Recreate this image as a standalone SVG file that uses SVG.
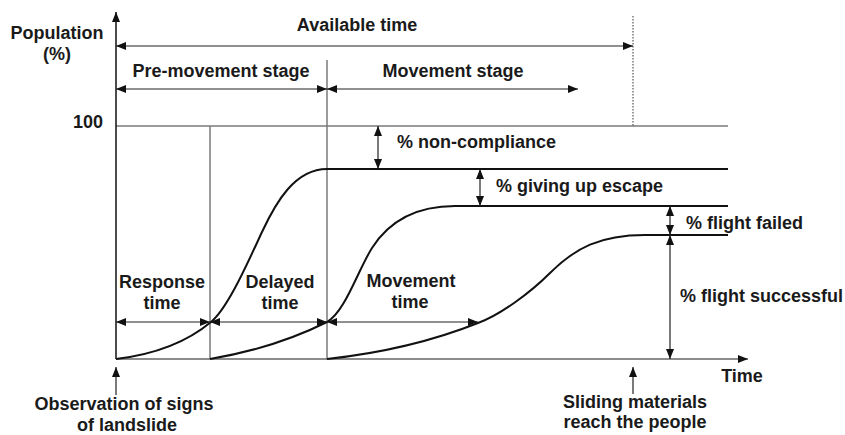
<svg xmlns="http://www.w3.org/2000/svg" width="845" height="435" viewBox="0 0 845 435">
<defs>
<marker id="ah" viewBox="0 0 10 8" refX="10" refY="4" markerWidth="10" markerHeight="8" markerUnits="userSpaceOnUse" orient="auto-start-reverse">
<path d="M0,0 L10,4 L0,8 Z" fill="#111"/>
</marker>
</defs>
<style>
text{font-family:"Liberation Sans",Arial,Helvetica,sans-serif;font-weight:bold;font-size:18px;fill:#1a1a1a}
.mid{text-anchor:middle}
.grid{stroke:#7a7a7a;stroke-width:1.5;fill:none}
.axis{stroke:#111;stroke-width:1.5;fill:none}
.curve{stroke:#111;stroke-width:2;fill:none}
.arr{stroke:#222;stroke-width:1.2;fill:none;marker-start:url(#ah);marker-end:url(#ah)}
.arr1{stroke:#222;stroke-width:1.2;fill:none;marker-end:url(#ah)}
</style>
<rect width="845" height="435" fill="#fff"/>
<g id="grid">
<line class="grid" x1="116" y1="126" x2="728" y2="126"/>
<line class="grid" x1="210" y1="126" x2="210" y2="359"/>
<line class="grid" x1="327" y1="60" x2="327" y2="359"/>
<line x1="633" y1="16" x2="633" y2="126" stroke="#333" stroke-width="1" stroke-dasharray="1.5,1.5"/>
</g>
<g id="axes">
<line class="axis" x1="116" y1="359" x2="116" y2="12" marker-end="url(#ah)"/>
<line x1="116" y1="359" x2="748" y2="359" stroke="#666" stroke-width="1.5" marker-end="url(#ah)"/>
</g>
<g id="curves">
<path class="curve" d="M116,359 Q175,352 211,322 C228,308 248,262 262,232 C276,202 295,169 327,169 L728,169"/>
<path class="curve" d="M210,359 Q275,348 327,322 C345,312 358,270 372,248 C386,226 410,206 455,206 L728,206"/>
<path class="curve" d="M327,359 Q410,350 478,323 C500,315 530,293 550,273 C575,248 600,235 645,235 L728,235"/>
</g>
<g id="connectors">
<line class="arr" x1="116" y1="46" x2="633" y2="46" stroke="#666"/>
<line class="arr" x1="116" y1="89" x2="327" y2="89"/>
<line class="arr" x1="327" y1="89" x2="578" y2="89"/>
<line class="arr" x1="378" y1="126" x2="378" y2="169"/>
<line class="arr" x1="480" y1="169" x2="480" y2="206"/>
<line class="arr" x1="670" y1="206" x2="670" y2="235"/>
<line class="arr" x1="670" y1="235" x2="670" y2="359"/>
<line class="arr" x1="116" y1="322" x2="210" y2="322"/>
<line class="arr" x1="210" y1="322" x2="327" y2="322"/>
<line class="arr" x1="327" y1="322" x2="478" y2="322"/>
<line class="arr1" x1="116" y1="395" x2="116" y2="367"/>
<line class="arr1" x1="633" y1="394" x2="633" y2="367"/>
</g>
<g id="labels">
<text class="mid" x="57" y="39">Population</text>
<text class="mid" x="57" y="60">(%)</text>
<text x="103" y="128" text-anchor="end">100</text>
<text class="mid" x="357" y="31">Available time</text>
<text class="mid" x="221" y="77">Pre-movement stage</text>
<text class="mid" x="453" y="77">Movement stage</text>
<text x="397" y="148">% non-compliance</text>
<text x="496" y="192">% giving up escape</text>
<text x="686" y="229">% flight failed</text>
<text x="680" y="302">% flight successful</text>
<text class="mid" x="162" y="288">Response</text>
<text class="mid" x="162" y="309">time</text>
<text class="mid" x="280" y="288">Delayed</text>
<text class="mid" x="280" y="309">time</text>
<text class="mid" x="411" y="287">Movement</text>
<text class="mid" x="410" y="308">time</text>
<text class="mid" x="742" y="382">Time</text>
<text class="mid" x="124" y="410">Observation of signs</text>
<text class="mid" x="127" y="431">of landslide</text>
<text class="mid" x="635" y="408">Sliding materials</text>
<text class="mid" x="635" y="428">reach the people</text>
</g>
</svg>
